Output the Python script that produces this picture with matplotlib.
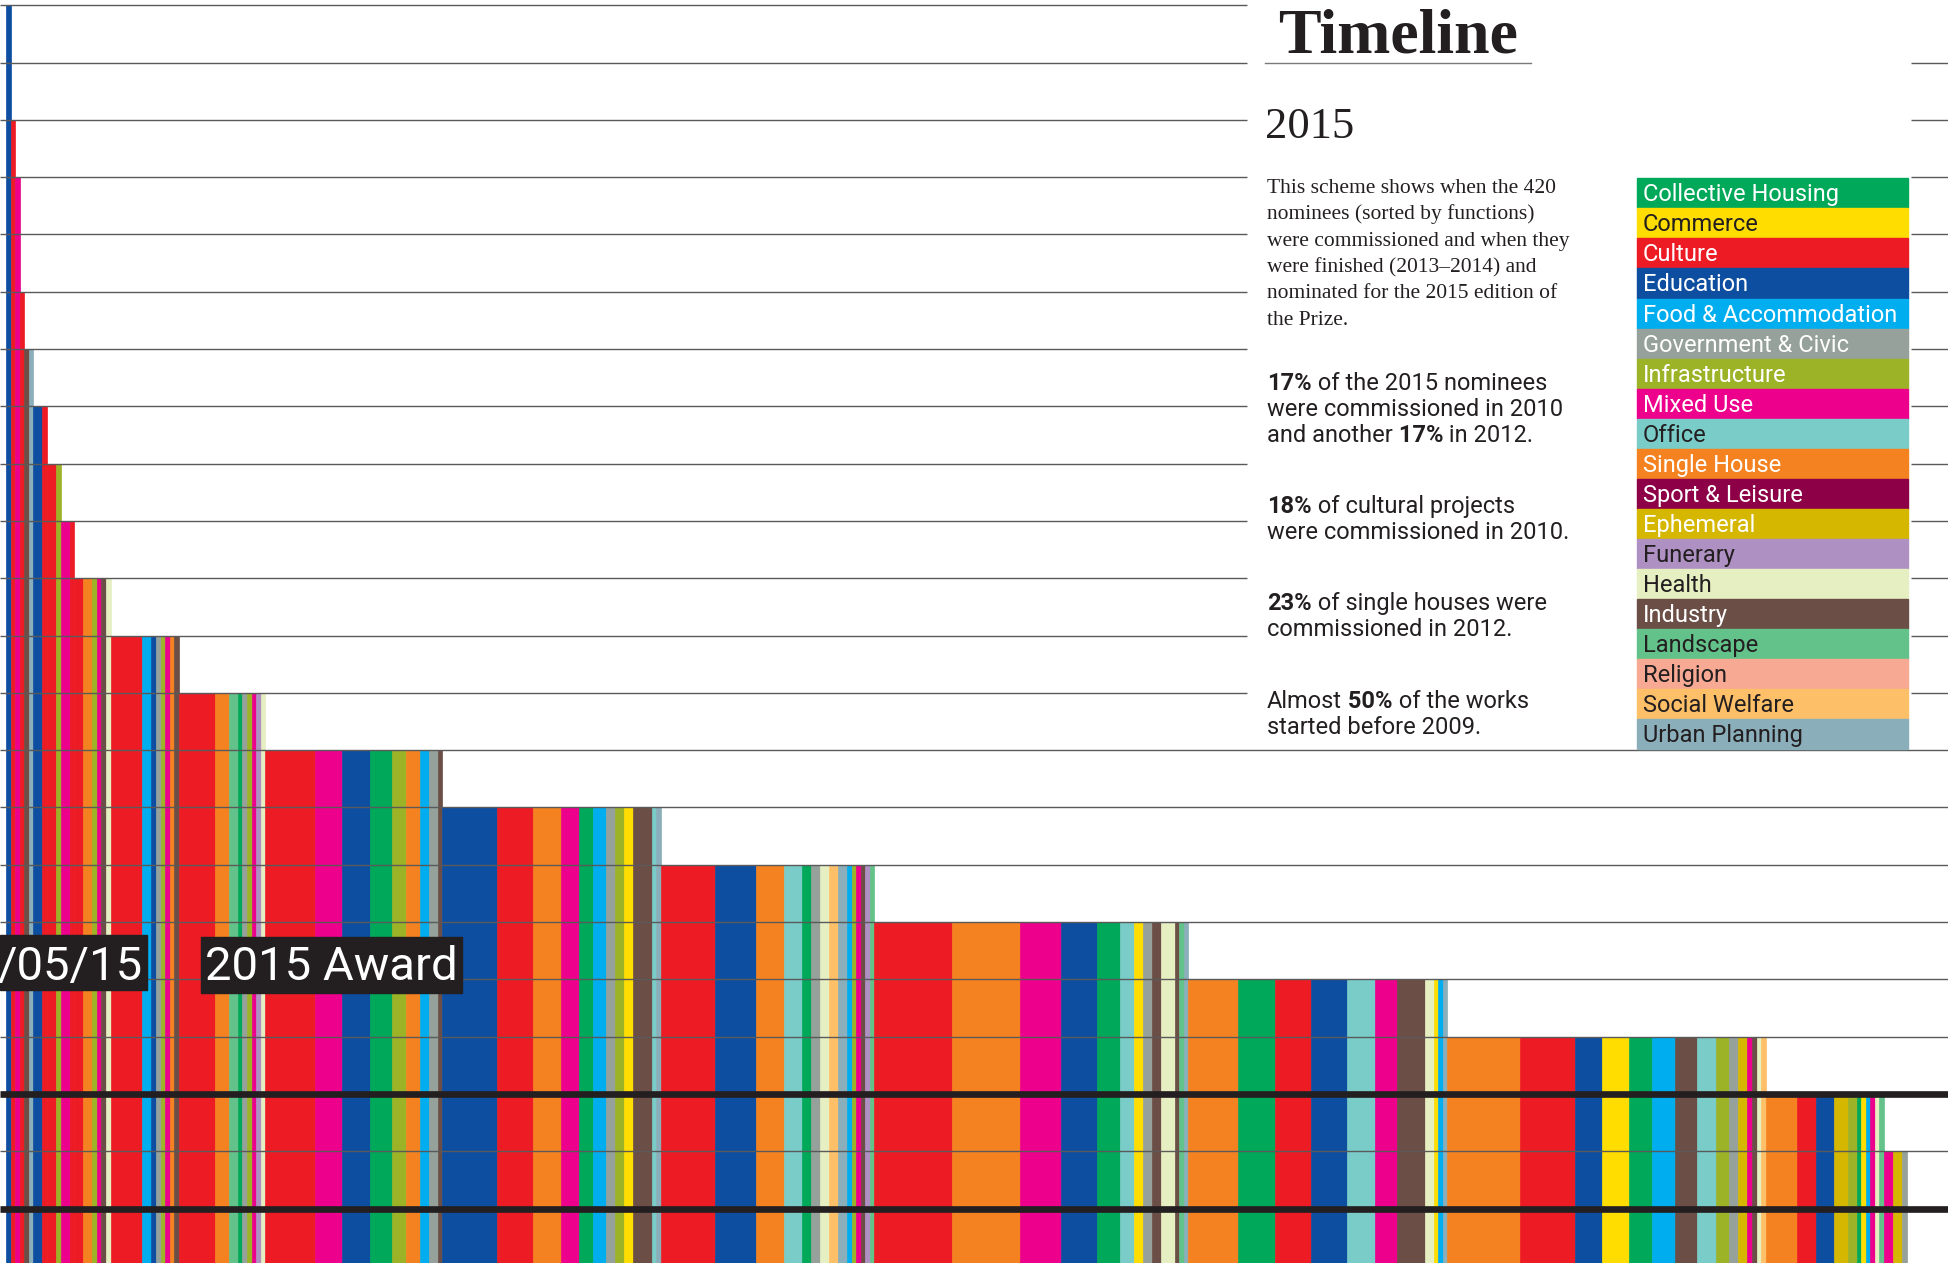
import numpy as np
import matplotlib.pyplot as plt
from matplotlib.patches import Rectangle
from matplotlib.lines import Line2D

plt.rcParams['font.family'] = ['Roboto', 'DejaVu Sans']

# reference layout grid (the picture is placed on a 1565 x 1015 grid)
W, H = 1565.0, 1015.0

codes = ["CH", "CO", "CU", "ED", "FA", "GC", "IN", "MU", "OF", "SH",
         "SL", "EP", "FU", "HE", "ID", "LA", "RE", "SW", "UP"]
functions = ["Collective Housing", "Commerce", "Culture", "Education",
             "Food & Accommodation", "Government & Civic", "Infrastructure",
             "Mixed Use", "Office", "Single House", "Sport & Leisure",
             "Ephemeral", "Funerary", "Health", "Industry", "Landscape",
             "Religion", "Social Welfare", "Urban Planning"]
colors = ["#00a859", "#ffdd00", "#ed1c24", "#0d4ea0", "#00aeef", "#95a19a",
          "#9cb227", "#ec008c", "#7accc8", "#f58220", "#8d0048", "#d5b700",
          "#ae90c2", "#e6efc1", "#6b4e45", "#63c28a", "#f7a993", "#fdc068",
          "#8aaeba"]
dark_label = [False, True, False, False, False, False, False, False, True,
              False, False, False, True, True, False, True, True, True, True]

# year of commission -> functions (in drawing order) and number of nominees
first_year = 1994
years = [1994, 1996, 1997, 1999, 2000, 2001, 2002, 2003, 2004, 2005,
         2006, 2007, 2008, 2009, 2010, 2011, 2012, 2013, 2014]
funcs_by_year = [
    ["ED"],
    ["CU"],
    ["MU"],
    ["CU"],
    ["ID", "UP"],
    ["ED", "CU"],
    ["CU", "IN"],
    ["MU", "CU"],
    ["CU", "SH", "IN", "MU", "ID", "HE"],
    ["CU", "FA", "ED", "GC", "IN", "MU", "SH", "ID"],
    ["CU", "SH", "LA", "CH", "GC", "IN", "MU", "FU", "HE"],
    ["CU", "MU", "ED", "CH", "IN", "SH", "FA", "GC", "ID"],
    ["ED", "CU", "SH", "MU", "CH", "FA", "GC", "IN", "CO", "ID", "OF", "UP"],
    ["CU", "ED", "SH", "OF", "CH", "GC", "HE", "SW", "UP", "FA", "IN", "MU",
     "ID", "FU", "LA"],
    ["CU", "SH", "MU", "ED", "CH", "OF", "CO", "GC", "ID", "HE", "ID", "LA",
     "UP"],
    ["SH", "CH", "CU", "ED", "OF", "MU", "ID", "HE", "CO", "FA", "UP"],
    ["SH", "CU", "ED", "CO", "CH", "FA", "ID", "OF", "IN", "GC", "EP", "MU",
     "ID", "HE", "SW"],
    ["SH", "CU", "ED", "EP", "IN", "CH", "CO", "FA", "MU", "HE", "LA"],
    ["MU", "EP", "GC"],
]
counts_by_year = [
    [1],
    [1],
    [1],
    [1],
    [1, 1],
    [2, 1],
    [2, 1],
    [2, 1],
    [2, 2, 1, 1, 1, 1],
    [7, 2, 1, 1, 1, 1, 1, 1],
    [8, 3, 2, 1, 1, 1, 1, 1, 1],
    [11, 6, 6, 5, 3, 3, 2, 2, 1],
    [12, 8, 6, 4, 3, 3, 2, 2, 2, 4, 1, 1],
    [12, 9, 6, 4, 2, 2, 2, 2, 2, 1, 1, 1, 1, 1, 1],
    [17, 15, 9, 8, 5, 3, 2, 2, 2, 3, 1, 1, 1],
    [11, 8, 8, 8, 6, 5, 6, 2, 1, 1, 1],
    [16, 12, 6, 6, 5, 5, 5, 4, 3, 2, 2, 1, 1, 1, 1],
    [7, 4, 4, 3, 2, 1, 1, 1, 1, 1, 1],
    [2, 2, 1],
]

para_lines = ["This scheme shows when the 420",
              "nominees (sorted by functions)",
              "were commissioned and when they",
              "were finished (2013\u20132014) and",
              "nominated for the 2015 edition of",
              "the Prize."]

stat_lines = [
    [("17%", "bold"), (" of the 2015 nominees", "normal")],
    [("were commissioned in 2010", "normal")],
    [("and another", "normal"), (" 17%", "bold"), (" in 2012.", "normal")],
    [("18%", "bold"), (" of cultural projects", "normal")],
    [("were commissioned in 2010.", "normal")],
    [("23%", "bold"), (" of single houses were", "normal")],
    [("commissioned in 2012.", "normal")],
    [("Almost", "normal"), (" 50%", "bold"), (" of the works", "normal")],
    [("started before 2009.", "normal")],
]
stat_base = [313.4, 334.4, 355.4, 412.5, 433.4, 490.2, 511.2, 568.7, 589.5]

ink = "#231f20"


def fx(d):
    return d / W


def fy(d):
    return 1 - d / H


fig = plt.figure(figsize=(19.48, 12.63), dpi=100)
ax = fig.add_axes([0, 0, 1, 1])
ax.set_axis_off()

x0_d, unit_d = 4.8, 3.653
row0_d, row_d = 4.2, 46.05
n_rows = 22
xmin, xmax = -x0_d / unit_d, (W - x0_d) / unit_d
ax.set_xlim(xmin, xmax)
ax.set_ylim((H - row0_d) / row_d, -row0_d / row_d)

# stacked strips: one strip per (year, function), running down to the bottom
lefts, widths, bottoms, cols = [], [], [], []
pos = 0
for yr, fl, cl in zip(years, funcs_by_year, counts_by_year):
    r = yr - first_year
    for f, c in zip(fl, cl):
        lefts.append(pos)
        widths.append(c)
        bottoms.append(r)
        cols.append(colors[codes.index(f)])
        pos += c
bottoms = np.array(bottoms)
ax.bar(lefts, n_rows - bottoms, width=widths, bottom=bottoms, align='edge',
       color=cols, edgecolor=cols, linewidth=0.5, zorder=1)

# year rules
panel_l = (1002 - x0_d) / unit_d
panel_r = (1535 - x0_d) / unit_d
for r in range(n_rows):
    thick = r in (19, 21)
    lw = 4.8 if thick else 1.0
    c = ink if thick else "#5a5a5a"
    if r <= 12:
        ax.hlines(r, xmin, panel_l, color=c, lw=lw, zorder=3)
        if r >= 1:
            ax.hlines(r, panel_r, xmax, color=c, lw=lw, zorder=3)
    else:
        ax.hlines(r, xmin, xmax, color=c, lw=lw, zorder=3)

# date labels
fig.add_artist(Rectangle((0, fy(796)), fx(117.9), (796 - 751.4) / H,
                         transform=fig.transFigure, color=ink, zorder=4))
fig.add_artist(Rectangle((fx(161.5), fy(797.7)), fx(371 - 161.5),
                         (797.7 - 752.7) / H, transform=fig.transFigure,
                         color=ink, zorder=4))
fig.text(fx(115), fy(787.5), "/05/15", color="white", fontsize=34,
         ha="right", va="baseline", zorder=5)
fig.text(fx(266), fy(787.5), "2015 Award", color="white", fontsize=34,
         ha="center", va="baseline", zorder=5)

# title block
fig.text(fx(1027), fy(42), "Timeline", family="Liberation Serif",
         fontweight="bold", fontsize=46, color=ink, va="baseline")
fig.add_artist(Line2D([fx(1016), fx(1230)], [fy(50.4)] * 2, color="#7a7a7a",
                      lw=1.0, transform=fig.transFigure))
fig.text(fx(1016), fy(111), "2015", family="Liberation Serif", fontsize=32,
         color=ink, va="baseline")
for i, s in enumerate(para_lines):
    fig.text(fx(1017.5), fy(155 + 21.2 * i), s, family="Liberation Serif",
             fontsize=15.5, color=ink, va="baseline")

renderer = fig.canvas.get_renderer()
for parts, yb in zip(stat_lines, stat_base):
    x = fx(1018)
    for s, w in parts:
        t = fig.text(x, fy(yb), s, fontsize=17, fontweight=w, color=ink,
                     va="baseline", ha="left")
        bb = t.get_window_extent(renderer=renderer)
        x = bb.x1 / fig.bbox.width

# legend
leg_top, leg_h = 143.3, 24.15
for i, name in enumerate(functions):
    top = leg_top + i * leg_h
    fig.add_artist(Rectangle((fx(1315), fy(top + leg_h)), fx(1533 - 1315),
                             leg_h / H, transform=fig.transFigure,
                             color=colors[i], zorder=2))
    fig.text(fx(1320), fy(top + 18.5), name, fontsize=17,
             color=ink if dark_label[i] else "white", va="baseline", zorder=3)

fig.savefig("out.png", dpi=100)
